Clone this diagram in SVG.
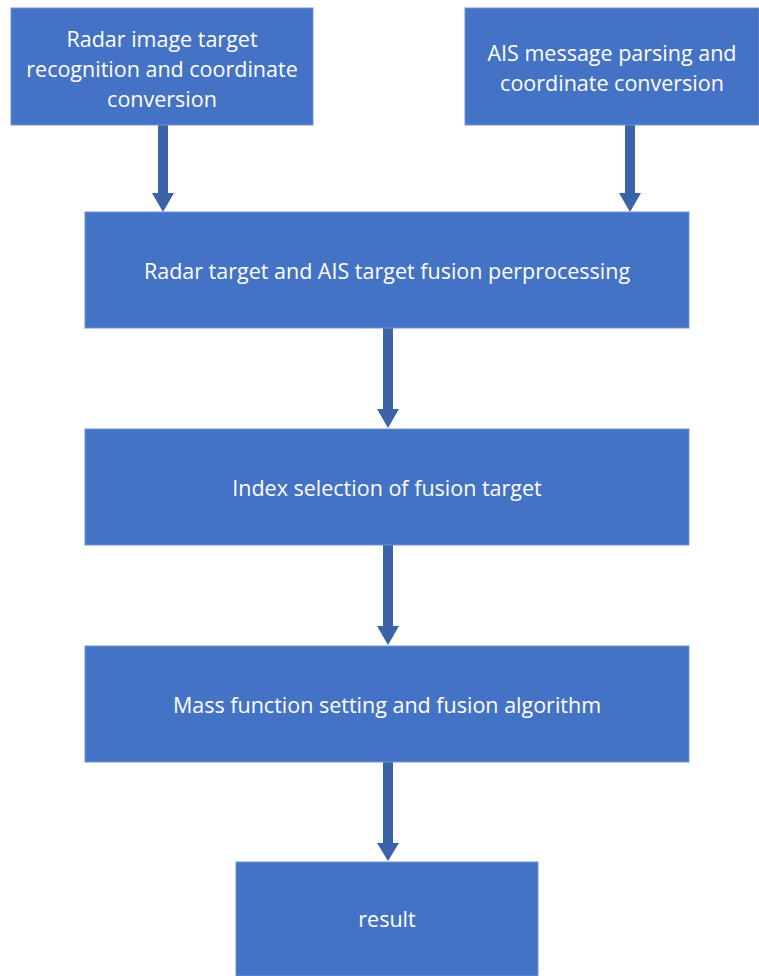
<svg xmlns="http://www.w3.org/2000/svg" width="759" height="976" viewBox="0 0 759 976">
<style>
.box{fill:#4472C4;stroke:#6F93D3;stroke-width:1}
.t{font-family:"Open Sans","Liberation Sans",sans-serif;font-size:21.5px;fill:#FFFFFF;text-anchor:middle;dominant-baseline:central}
.arr{fill:#3A63AA}
</style>
<rect width="759" height="976" fill="#FFFFFF"/>
<g id="connectors">
<path class="arr" d="M158,125 H168 V193 H174 L163,212 L152,193 H158 Z"/>
<path class="arr" d="M625,125 H635 V193 H641 L630,212 L619,193 H625 Z"/>
<path class="arr" d="M383,328 H393 V409 H399 L388,428 L377,409 H383 Z"/>
<path class="arr" d="M383,545 H393 V626 H399 L388,645 L377,626 H383 Z"/>
<path class="arr" d="M383,762 H393 V843 H399 L388,861 L377,843 H383 Z"/>
</g>
<g id="n1">
<rect class="box" x="11" y="8" width="302" height="117"/>
<text class="t" x="162" y="38">Radar image target</text>
<text class="t" x="162" y="68">recognition and coordinate</text>
<text class="t" x="162" y="98">conversion</text>
</g>
<g id="n2">
<rect class="box" x="465" y="8" width="294" height="117"/>
<text class="t" x="612" y="52">AIS message parsing and</text>
<text class="t" x="612" y="82">coordinate conversion</text>
</g>
<g id="n3">
<rect class="box" x="85" y="212" width="604" height="116"/>
<text class="t" x="387" y="270">Radar target and AIS target fusion perprocessing</text>
</g>
<g id="n4">
<rect class="box" x="85" y="429" width="604" height="116"/>
<text class="t" x="387" y="487">Index selection of fusion target</text>
</g>
<g id="n5">
<rect class="box" x="85" y="646" width="604" height="116"/>
<text class="t" x="387" y="704">Mass function setting and fusion algorithm</text>
</g>
<g id="n6">
<rect class="box" x="236" y="862" width="302" height="114"/>
<text class="t" x="387" y="918">result</text>
</g>
</svg>
